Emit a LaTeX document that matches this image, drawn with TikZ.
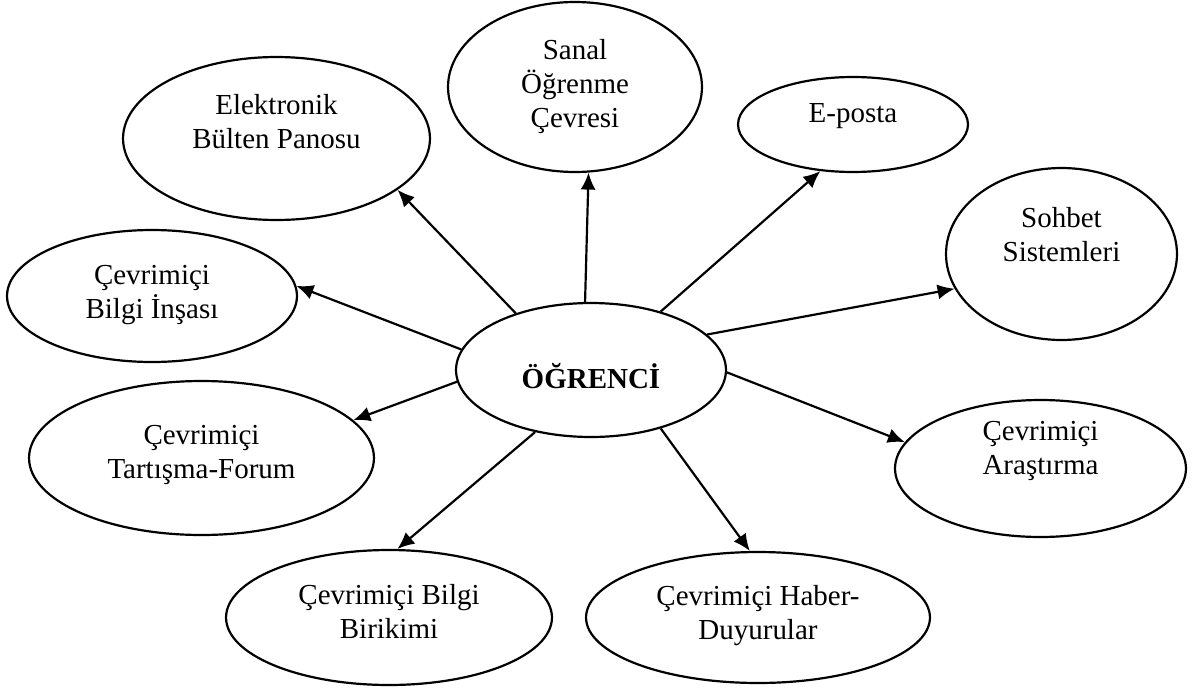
\documentclass[tikz,border=0pt]{standalone}
\usepackage{fontspec}
\setmainfont{Liberation Serif}
\usepackage{tikz}
\usetikzlibrary{shapes}
\usetikzlibrary{arrows.meta}
\tikzstyle{bub} = [ellipse, draw=black, line width=1.25pt, inner sep=0pt]
\tikzstyle{tag} = [align=center, inner sep=0pt, font=\fontsize{16.5}{19.3}\selectfont]
\newcommand{\sedge}[2]{ %
  % arrow from the student to one tool
  \path (#1) edge [-{Latex[length=3.4mm, width=3mm]}, line width=1.25pt] (#2) ;%
}

\begin{document}
\begin{tikzpicture}[x=0.02cm, y=-0.02cm]
  \useasboundingbox (0,0) rectangle (1204,690);
  % student
  \node[bub, minimum width=5.4cm, minimum height=2.68cm,
    label={[tag, name=stu-t, yshift=-3.5pt]center:\textbf{ÖĞRENCİ}}] (stu) at (591,370) {};
  % tools above
  \node[bub, minimum width=6.14cm, minimum height=3.26cm,
    label={[tag, name=bulten-t, yshift=9.6pt]center:Elektronik\\Bülten Panosu}] (bulten) at (276.5,138.5) {};
  \node[bub, minimum width=5.08cm, minimum height=3.4cm,
    label={[tag, name=sanal-t, yshift=0.5pt]center:Sanal\\Öğrenme\\Çevresi}] (sanal) at (575,87) {};
  \node[bub, minimum width=4.6cm, minimum height=1.9cm,
    label={[tag, name=eposta-t, yshift=5pt]center:E-posta}] (eposta) at (853,124.5) {};
  \node[bub, minimum width=4.62cm, minimum height=3.44cm,
    label={[tag, name=sohbet-t, yshift=11pt]center:Sohbet\\Sistemleri}] (sohbet) at (1061.5,254) {};
  % tools left and right
  \node[bub, minimum width=5.8cm, minimum height=2.64cm,
    label={[tag, name=insa-t, yshift=0.5pt]center:Çevrimiçi\\Bilgi İnşası}] (insa) at (152,296) {};
  \node[bub, minimum width=6.9cm, minimum height=3.08cm,
    label={[tag, name=forum-t, yshift=1.7pt]center:Çevrimiçi\\Tartışma-Forum}] (forum) at (201.5,458) {};
  \node[bub, minimum width=5.82cm, minimum height=2.74cm,
    label={[tag, name=arastirma-t, yshift=10pt]center:Çevrimiçi\\Araştırma}] (arastirma) at (1040.5,468.5) {};
  % tools below
  \node[bub, minimum width=6.52cm, minimum height=2.7cm,
    label={[tag, name=birikim-t, yshift=3.4pt]center:Çevrimiçi Bilgi\\Birikimi}] (birikim) at (389,617.5) {};
  \node[bub, minimum width=6.88cm, minimum height=2.62cm,
    label={[tag, name=haber-t, yshift=1pt]center:Çevrimiçi Haber-\\Duyurular}] (haber) at (758,617.5) {};

  % edges
  \sedge {stu.143.4} {bulten.-23.5}
  \sedge {stu.95.1} {sanal.-81.3}
  \sedge {stu.40.9} {eposta.235.7}
  \sedge {stu.17.7} {sohbet.198.9}
  \sedge {stu.171} {insa.4.3}
  \sedge {stu.185.2} {forum.14.5}
  \sedge {stu.-1} {arastirma.169}
  \sedge {stu.-40.9} {haber.97.4}
  \sedge {stu.228.9} {birikim.83.4}
\end{tikzpicture}
\end{document}
